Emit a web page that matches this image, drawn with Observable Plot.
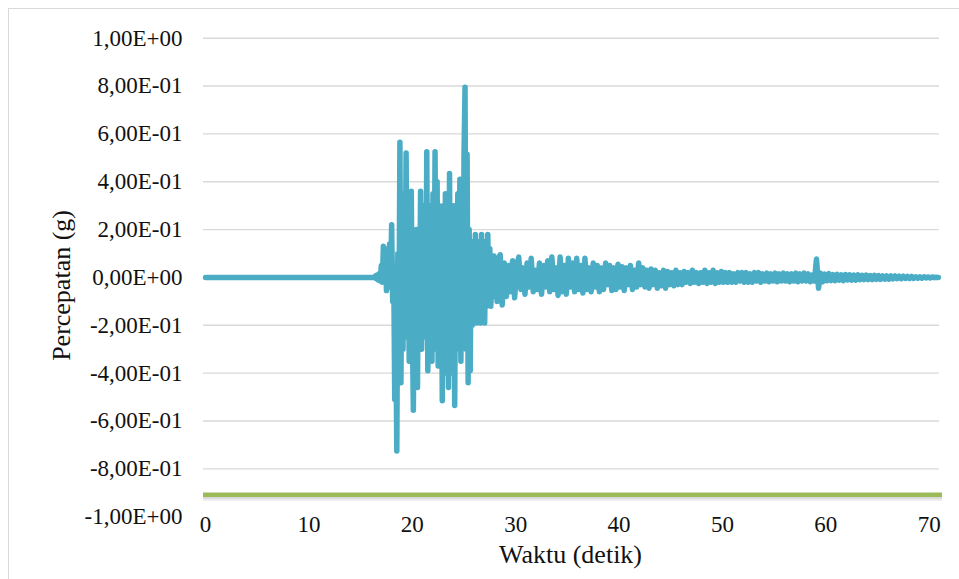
<!DOCTYPE html>
<html>
<head>
<meta charset="utf-8">
<script src="https://cdn.jsdelivr.net/npm/d3@7"></script>
<script src="https://cdn.jsdelivr.net/npm/@observablehq/plot@0.6"></script>
<style>
  html, body { margin: 0; padding: 0; background: #fff; overflow: hidden; }
  #wrap { position: relative; width: 959px; height: 579px; }
  #border { position: absolute; left: 8px; top: 8px; width: 960px; height: 580px; border: 1px solid #d9d9d9; box-sizing: border-box; pointer-events: none; }
  #chart { position: absolute; left: 0; top: 0; }
</style>
</head>
<body>
<div id="wrap"><div id="border"></div><div id="chart"></div></div>
<script>
// ---- data ----
const xTicks = [0, 10, 20, 30, 40, 50, 60, 70];
const yTicks = [-1, -0.8, -0.6, -0.4, -0.2, 0, 0.2, 0.4, 0.6, 0.8, 1];
const gridValues = [-0.8, -0.6, -0.4, -0.2, 0, 0.2, 0.4, 0.6, 0.8, 1];
const xAxisLineValue = -0.908;
const xTitle = "Waktu (detik)";
const yTitle = "Percepatan (g)";

// quiet pre-event record
const quietTimes = [0, 16.3];
const quietValues = [0, 0];

// strong motion, sampled every 0.1 s from 16.3 s
const strongStart = 16.3, strongStep = 0.1;
const strongValues = [
  0, 0.005, -0.005, 0.01, -0.01, 0.015, -0.015, 0.05, -0.02, 0.13,
  0.02, 0.12, -0.055, 0.08, -0.04, 0.14, -0.02, 0.22, -0.1, 0.05,
  -0.51, -0.2, -0.725, 0.1, -0.3, 0.565, -0.44, 0.2, -0.3, 0.35,
  -0.15, 0.52, -0.25, 0.15, -0.35, 0.2, 0.36, -0.2, -0.555, 0.1,
  -0.3, 0.2, -0.46, 0.15, -0.2, 0.36, -0.3, 0.25, -0.15, 0.3,
  -0.25, 0.525, -0.39, 0.3, -0.3, 0.2, -0.35, 0.35, -0.2, 0.525,
  -0.3, 0.4, -0.37, 0.3, -0.25, 0.25, -0.515, 0.3, -0.4, 0.35,
  -0.3, 0.2, -0.46, 0.435, -0.3, 0.25, -0.4, 0.3, -0.535, 0.2,
  -0.3, 0.35, -0.2, 0.41, -0.35, 0.3, -0.25, 0.5, 0.795, -0.3,
  0.515, -0.44, 0.2, -0.39, 0.15, -0.2, 0.12, -0.15, 0.18, -0.19,
  0.15, -0.18, 0.12, -0.19, 0.18, -0.15, 0.1, -0.19, 0.15, -0.12,
  0.18, -0.1, 0.12, -0.12, 0.08, -0.08, 0.09, -0.07, 0.06, -0.1
];

// coda, sampled every 0.2 s from 28.3 s
const codaStart = 28.3, codaStep = 0.2;
const codaValues = [
  0.07, 0.095, -0.115, 0.06, -0.08, 0.05, -0.06, 0.07, -0.085, 0.05,
  0.085, -0.05, 0.04, -0.07, 0.06, -0.04, 0.08, -0.06, 0.03, -0.05,
  0.06, -0.07, 0.05, -0.04, 0.07, -0.06, 0.085, -0.05, 0.04, -0.075,
  0.085, -0.06, 0.05, -0.07, 0.08, -0.04, 0.06, -0.06, 0.08, -0.05,
  0.05, -0.065, 0.08, -0.05, 0.04, -0.06, 0.06, -0.04, 0.05, -0.06,
  0.04, -0.05, 0.06, -0.03, 0.05, -0.055, 0.04, -0.05, 0.055, -0.04,
  0.045, -0.055, 0.04, -0.03, 0.05, -0.05, 0.03, -0.04, 0.06, -0.03,
  0.04, -0.04, 0.03, -0.045, 0.035, -0.03, 0.03, -0.045, 0.02, -0.035,
  0.03, -0.045, 0.025, -0.03, 0.02, -0.035, 0.03, -0.03, 0.02, -0.03,
  0.025, -0.02, 0.02, -0.025, 0.03, -0.02, 0.02, -0.025, 0.02, -0.02,
  0.03, -0.025, 0.02, -0.02, 0.03, -0.025, 0.02, -0.02, 0.025, -0.02,
  0.02, -0.02, 0.02, -0.02, 0.015, -0.02, 0.02, -0.015, 0.02, -0.02,
  0.02, -0.02, 0.015, -0.02, 0.02, -0.015, 0.02, -0.02, 0.015, -0.015,
  0.018, -0.018, 0.015, -0.015, 0.018, -0.018, 0.015, -0.015, 0.018, -0.015,
  0.015, -0.018, 0.015, -0.015, 0.018, -0.018, 0.015, -0.015, 0.018, -0.015,
  0.015, -0.018, 0.01, -0.015, 0.077, -0.045
];

// tail, sampled every 0.2 s from 59.5 s
const tailStart = 59.5, tailStep = 0.2;
const tailValues = [
  0.018, -0.018, 0.014, -0.014, 0.016, -0.013, 0.012, -0.013, 0.013, -0.011,
  0.011, -0.013, 0.012, -0.01, 0.011, -0.011, 0.01, -0.011, 0.011, -0.009,
  0.009, -0.009, 0.01, -0.009, 0.008, -0.009, 0.009, -0.008, 0.008, -0.008,
  0.007, -0.007, 0.006, -0.007, 0.006, -0.006, 0.006, -0.005, 0.005, -0.005,
  0.005, -0.004, 0.004, -0.004, 0.004, -0.004, 0.003, -0.003, 0.003, -0.003,
  0.003, -0.002, 0.002, -0.002, 0.002, -0.001, 0.001, 0
];

// ---- build table ----
function segment(start, step, values) {
  return values.map((v, i) => ({t: +(start + i * step).toFixed(3), a: v}));
}
const record = [
  ...quietTimes.map((t, i) => ({t, a: quietValues[i]})),
  ...segment(strongStart, strongStep, strongValues),
  ...segment(codaStart, codaStep, codaValues),
  ...segment(tailStart, tailStep, tailValues)
];

function sciComma(v) {
  const [m, e] = v.toExponential(2).split("e");
  const n = +e;
  return m.replace(".", ",") + "E" + (n < 0 ? "-" : "+") + String(Math.abs(n)).padStart(2, "0");
}

const serif = "Liberation Serif";
const ink = "#111";

const chart = Plot.plot({
  width: 959,
  height: 579,
  marginLeft: 203,
  marginRight: 20,
  marginTop: 37.7,
  marginBottom: 62.8,
  style: {fontFamily: serif, fontSize: "23px", color: ink, background: "transparent", overflow: "visible"},
  x: {domain: [-0.2, 71], label: null, axis: null},
  y: {domain: [-1, 1], label: null, axis: null},
  marks: [
    Plot.ruleY(gridValues, {stroke: "#d9d9d9", strokeWidth: 1.4}),
    Plot.ruleY([xAxisLineValue], {stroke: "#000", strokeOpacity: 0.08, strokeWidth: 6, dy: 3, insetRight: -3}),
    Plot.ruleY([xAxisLineValue], {stroke: "#000", strokeOpacity: 0.08, strokeWidth: 4, dy: 2, insetRight: -3}),
    Plot.ruleY([xAxisLineValue], {stroke: "#9bbb59", strokeWidth: 4.5, insetRight: -3}),
    // y tick labels
    Plot.text(yTicks, {y: d => d, text: sciComma, frameAnchor: "left", textAnchor: "end", dx: -21, fontSize: 23, fontFamily: serif, fill: ink}),
    // x tick labels
    Plot.text(xTicks, {x: d => d, text: d => String(d), frameAnchor: "bottom", lineAnchor: "top", dy: -1, fontSize: 23, fontFamily: serif, fill: ink}),
    Plot.line(record, {x: "t", y: "a", stroke: "#4bacc6", strokeWidth: 5.5, strokeLinejoin: "round", strokeLinecap: "round"}),
    Plot.text([xTitle], {frameAnchor: "bottom", dx: -1, dy: 46, fontSize: 26, fontFamily: serif, fill: ink}),
    Plot.text([yTitle], {frameAnchor: "left", textAnchor: "middle", dx: -142, dy: 8, rotate: -90, fontSize: 26, fontFamily: serif, fill: ink})
  ]
});
document.getElementById("chart").appendChild(chart);
</script>
</body>
</html>
